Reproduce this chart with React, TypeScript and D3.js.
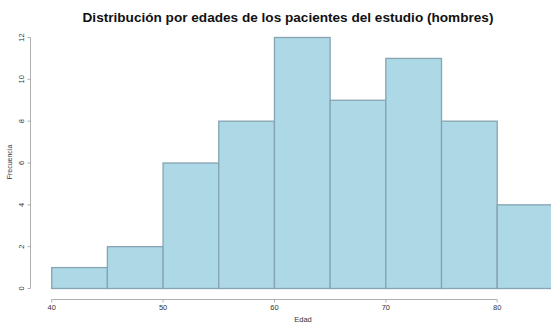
import React from "react";
import * as d3 from "d3";

// Age histogram: bin edges and counts
const binStarts = [40, 45, 50, 55, 60, 65, 70, 75, 80];
const binWidth = 5;
const counts = [1, 2, 6, 8, 12, 9, 11, 8, 4];
const xTicks = [40, 50, 60, 70, 80];
const yTicks = [0, 2, 4, 6, 8, 10, 12];

const title = "Distribución por edades de los pacientes del estudio (hombres)";
const xLabel = "Edad";
const yLabel = "Frecuencia";

const W = 551;
const H = 325;

export default function App() {
  const x = d3.scaleLinear().domain([40, 80]).range([51.7, 497.2]);
  const y = d3.scaleLinear().domain([0, 12]).range([288.5, 37.5]);
  const font = "Liberation Sans, Arial, sans-serif";
  const axisColor = "#b0b0b0";
  const xAxisY = 299.5;
  const yAxisX = 30.5;

  return (
    <svg
      width={W}
      height={H}
      style={{ position: "absolute", left: 0, top: 0, background: "#fff" }}
      fontFamily={font}
    >
      <text
        x={288}
        y={22}
        textAnchor="middle"
        fontSize={13.6}
        fontWeight="bold"
        fill="#111"
      >
        {title}
      </text>

      {binStarts.map((b, i) => (
        <rect
          key={b}
          x={x(b)}
          y={y(counts[i])}
          width={x(b + binWidth) - x(b)}
          height={y(0) - y(counts[i])}
          fill="#add8e6"
          stroke="#86a4b1"
          strokeWidth={1.3}
        />
      ))}

      {/* x axis */}
      <line
        x1={x(40)}
        x2={x(80)}
        y1={xAxisY}
        y2={xAxisY}
        stroke={axisColor}
        strokeWidth={1}
      />
      {xTicks.map((t) => (
        <g key={t}>
          <line
            x1={x(t)}
            x2={x(t)}
            y1={xAxisY}
            y2={xAxisY + 3}
            stroke={axisColor}
          />
          <text
            x={x(t)}
            y={310}
            textAnchor="middle"
            fontSize={7.5}
            fill="#333"
          >
            {t}
          </text>
        </g>
      ))}
      <text x={303} y={322} textAnchor="middle" fontSize={7.5} fill="#333">
        {xLabel}
      </text>

      {/* y axis */}
      <line
        x1={yAxisX}
        x2={yAxisX}
        y1={y(0)}
        y2={y(12)}
        stroke={axisColor}
        strokeWidth={1}
      />
      {yTicks.map((t) => (
        <g key={t}>
          <line
            x1={yAxisX - 3}
            x2={yAxisX}
            y1={y(t)}
            y2={y(t)}
            stroke={axisColor}
          />
          <text
            transform={`translate(24,${y(t)}) rotate(-90)`}
            textAnchor="middle"
            fontSize={7.5}
            fill="#333"
          >
            {t}
          </text>
        </g>
      ))}
      <text
        transform={`translate(12,162) rotate(-90)`}
        textAnchor="middle"
        fontSize={7}
        fill="#333"
      >
        {yLabel}
      </text>
    </svg>
  );
}
